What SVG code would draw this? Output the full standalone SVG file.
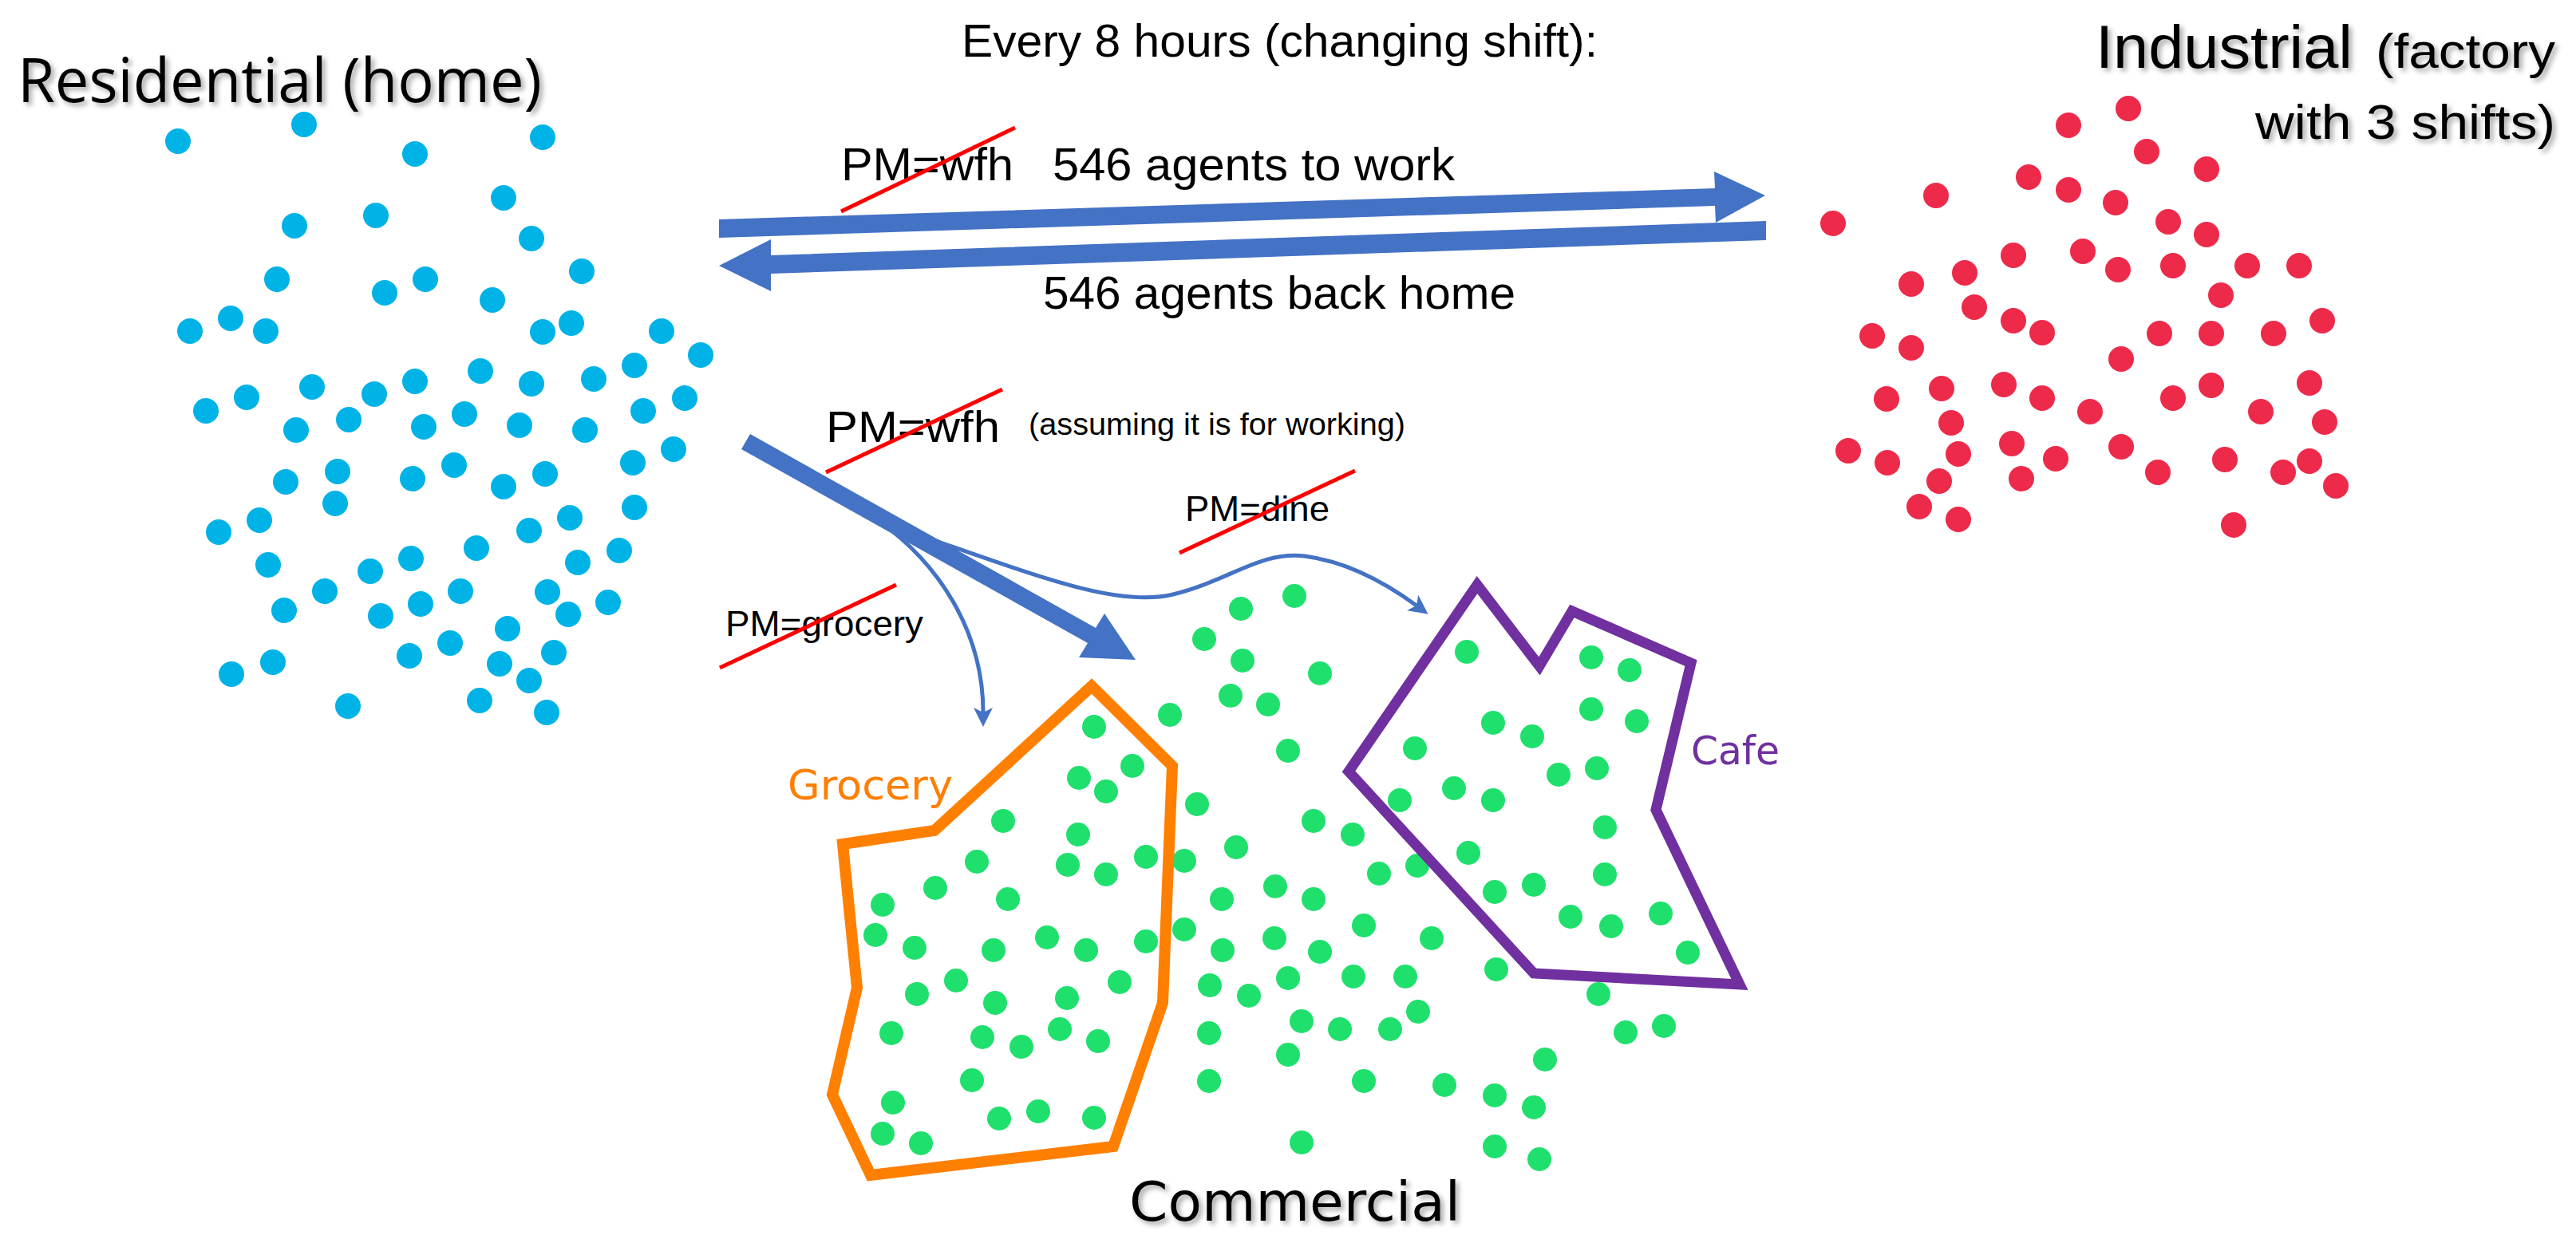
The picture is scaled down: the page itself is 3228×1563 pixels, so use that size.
<svg xmlns="http://www.w3.org/2000/svg" width="3228" height="1563" viewBox="0 0 3228 1563">
<style>
.b{fill:#00B3E6}
.r{fill:#EE2A4A}
.g{fill:#1FE06C}
.lbl{font-family:"Liberation Sans",Arial,sans-serif;fill:#000}
.big{font-family:"Open Sans","Liberation Sans",sans-serif;fill:#000}
.dj{font-family:"DejaVu Sans","Liberation Sans",sans-serif}
.strike{stroke:#FF0000;stroke-width:5;fill:none}
.thin{stroke:#4472C4;stroke-width:5;fill:none}
.fat{fill:#4472C4}
</style>
<defs>
<filter id="sh" x="-10%" y="-30%" width="120%" height="160%">
<feDropShadow dx="4" dy="4" stdDeviation="3" flood-color="#000" flood-opacity="0.35"/>
</filter>
<marker id="ah" markerUnits="userSpaceOnUse" viewBox="0 -13 26 26" markerWidth="26" markerHeight="26" refX="6" refY="0" orient="auto">
<path d="M0,-12 L24,0 L0,12 L6,0 z" fill="#4472C4"/>
</marker>
</defs>
<rect width="3228" height="1563" fill="#fff"/>

<g id="residential">
<text class="big" x="22" y="128" font-size="76" textLength="657" lengthAdjust="spacingAndGlyphs" filter="url(#sh)">Residential (home)</text>
<g class="b">
<circle cx="223" cy="177" r="16"/><circle cx="381" cy="156" r="16"/><circle cx="520" cy="193" r="16"/><circle cx="680" cy="172" r="16"/>
<circle cx="631" cy="248" r="16"/><circle cx="369" cy="283" r="16"/><circle cx="471" cy="270" r="16"/><circle cx="666" cy="299" r="16"/>
<circle cx="347" cy="350" r="16"/><circle cx="533" cy="350" r="16"/><circle cx="482" cy="367" r="16"/><circle cx="729" cy="340" r="16"/>
<circle cx="617" cy="376" r="16"/><circle cx="238" cy="415" r="16"/><circle cx="289" cy="399" r="16"/><circle cx="333" cy="415" r="16"/>
<circle cx="680" cy="416" r="16"/><circle cx="716" cy="405" r="16"/><circle cx="829" cy="415" r="16"/><circle cx="878" cy="445" r="16"/>
<circle cx="795" cy="458" r="16"/><circle cx="602" cy="465" r="16"/><circle cx="744" cy="475" r="16"/><circle cx="666" cy="481" r="16"/>
<circle cx="520" cy="478" r="16"/><circle cx="391" cy="485" r="16"/><circle cx="469" cy="494" r="16"/><circle cx="258" cy="515" r="16"/>
<circle cx="309" cy="498" r="16"/><circle cx="371" cy="539" r="16"/><circle cx="437" cy="526" r="16"/><circle cx="531" cy="535" r="16"/>
<circle cx="582" cy="519" r="16"/><circle cx="651" cy="533" r="16"/><circle cx="733" cy="539" r="16"/><circle cx="806" cy="515" r="16"/>
<circle cx="858" cy="499" r="16"/><circle cx="844" cy="563" r="16"/><circle cx="793" cy="580" r="16"/><circle cx="423" cy="591" r="16"/>
<circle cx="358" cy="604" r="16"/><circle cx="517" cy="600" r="16"/><circle cx="569" cy="583" r="16"/><circle cx="631" cy="610" r="16"/>
<circle cx="683" cy="594" r="16"/><circle cx="420" cy="631" r="16"/><circle cx="795" cy="636" r="16"/><circle cx="274" cy="667" r="16"/>
<circle cx="325" cy="652" r="16"/><circle cx="714" cy="649" r="16"/><circle cx="663" cy="665" r="16"/><circle cx="597" cy="687" r="16"/>
<circle cx="336" cy="708" r="16"/><circle cx="464" cy="716" r="16"/><circle cx="515" cy="700" r="16"/><circle cx="724" cy="705" r="16"/>
<circle cx="776" cy="690" r="16"/><circle cx="407" cy="741" r="16"/><circle cx="577" cy="741" r="16"/><circle cx="356" cy="765" r="16"/>
<circle cx="477" cy="772" r="16"/><circle cx="527" cy="757" r="16"/><circle cx="686" cy="742" r="16"/><circle cx="762" cy="755" r="16"/>
<circle cx="712" cy="770" r="16"/><circle cx="636" cy="788" r="16"/><circle cx="564" cy="806" r="16"/><circle cx="513" cy="822" r="16"/>
<circle cx="694" cy="818" r="16"/><circle cx="626" cy="832" r="16"/><circle cx="290" cy="845" r="16"/><circle cx="342" cy="830" r="16"/>
<circle cx="663" cy="853" r="16"/><circle cx="436" cy="885" r="16"/><circle cx="601" cy="878" r="16"/><circle cx="685" cy="893" r="16"/>
</g>
</g>

<g id="industrial">
<text class="lbl" x="2626" y="85" font-size="76" textLength="322" lengthAdjust="spacingAndGlyphs" filter="url(#sh)">Industrial</text>
<text class="lbl" x="2977" y="85" font-size="62" textLength="225" lengthAdjust="spacingAndGlyphs" filter="url(#sh)">(factory</text>
<text class="lbl" x="2826" y="174" font-size="62" textLength="376" lengthAdjust="spacingAndGlyphs" filter="url(#sh)">with 3 shifts)</text>
<g class="r">
<circle cx="2667" cy="136" r="16"/><circle cx="2592" cy="157" r="16"/><circle cx="2690" cy="190" r="16"/><circle cx="2765" cy="212" r="16"/>
<circle cx="2542" cy="222" r="16"/><circle cx="2592" cy="238" r="16"/><circle cx="2651" cy="254" r="16"/><circle cx="2426" cy="245" r="16"/>
<circle cx="2297" cy="280" r="16"/><circle cx="2717" cy="278" r="16"/><circle cx="2765" cy="294" r="16"/><circle cx="2523" cy="320" r="16"/>
<circle cx="2610" cy="315" r="16"/><circle cx="2654" cy="338" r="16"/><circle cx="2723" cy="333" r="16"/><circle cx="2816" cy="333" r="16"/>
<circle cx="2881" cy="333" r="16"/><circle cx="2462" cy="342" r="16"/><circle cx="2395" cy="356" r="16"/><circle cx="2783" cy="370" r="16"/>
<circle cx="2474" cy="385" r="16"/><circle cx="2523" cy="402" r="16"/><circle cx="2559" cy="417" r="16"/><circle cx="2346" cy="421" r="16"/>
<circle cx="2395" cy="436" r="16"/><circle cx="2706" cy="418" r="16"/><circle cx="2771" cy="418" r="16"/><circle cx="2849" cy="418" r="16"/>
<circle cx="2910" cy="402" r="16"/><circle cx="2658" cy="450" r="16"/><circle cx="2433" cy="487" r="16"/><circle cx="2364" cy="500" r="16"/>
<circle cx="2511" cy="482" r="16"/><circle cx="2559" cy="499" r="16"/><circle cx="2619" cy="516" r="16"/><circle cx="2723" cy="499" r="16"/>
<circle cx="2771" cy="483" r="16"/><circle cx="2833" cy="516" r="16"/><circle cx="2894" cy="480" r="16"/><circle cx="2913" cy="529" r="16"/>
<circle cx="2445" cy="530" r="16"/><circle cx="2316" cy="565" r="16"/><circle cx="2365" cy="580" r="16"/><circle cx="2454" cy="569" r="16"/>
<circle cx="2521" cy="556" r="16"/><circle cx="2576" cy="575" r="16"/><circle cx="2658" cy="560" r="16"/><circle cx="2704" cy="592" r="16"/>
<circle cx="2788" cy="576" r="16"/><circle cx="2861" cy="592" r="16"/><circle cx="2894" cy="578" r="16"/><circle cx="2927" cy="609" r="16"/>
<circle cx="2430" cy="603" r="16"/><circle cx="2533" cy="600" r="16"/><circle cx="2405" cy="635" r="16"/><circle cx="2454" cy="651" r="16"/>
<circle cx="2799" cy="658" r="16"/>
</g>
</g>

<g id="commercial">
<text class="dj" x="1415" y="1530" font-size="68" fill="#000" textLength="415" lengthAdjust="spacingAndGlyphs" filter="url(#sh)">Commercial</text>
<g class="g">
<circle cx="1622" cy="747" r="15"/><circle cx="1555" cy="763" r="15"/><circle cx="1509" cy="801" r="15"/><circle cx="1557" cy="828" r="15"/>
<circle cx="1654" cy="844" r="15"/><circle cx="1542" cy="872" r="15"/><circle cx="1589" cy="883" r="15"/><circle cx="1466" cy="896" r="15"/>
<circle cx="1371" cy="911" r="15"/><circle cx="1614" cy="941" r="15"/><circle cx="1419" cy="960" r="15"/><circle cx="1352" cy="975" r="15"/>
<circle cx="1386" cy="992" r="15"/><circle cx="1500" cy="1008" r="15"/><circle cx="1257" cy="1029" r="15"/><circle cx="1646" cy="1029" r="15"/>
<circle cx="1351" cy="1046" r="15"/><circle cx="1695" cy="1046" r="15"/><circle cx="1549" cy="1062" r="15"/><circle cx="1224" cy="1080" r="15"/>
<circle cx="1338" cy="1084" r="15"/><circle cx="1436" cy="1074" r="15"/><circle cx="1484" cy="1079" r="15"/><circle cx="1386" cy="1096" r="15"/>
<circle cx="1728" cy="1095" r="15"/><circle cx="1172" cy="1113" r="15"/><circle cx="1263" cy="1127" r="15"/><circle cx="1531" cy="1127" r="15"/>
<circle cx="1598" cy="1111" r="15"/><circle cx="1646" cy="1127" r="15"/><circle cx="1106" cy="1134" r="15"/><circle cx="1097" cy="1172" r="15"/>
<circle cx="1146" cy="1188" r="15"/><circle cx="1245" cy="1191" r="15"/><circle cx="1312" cy="1175" r="15"/><circle cx="1361" cy="1191" r="15"/>
<circle cx="1436" cy="1180" r="15"/><circle cx="1484" cy="1165" r="15"/><circle cx="1532" cy="1191" r="15"/><circle cx="1597" cy="1176" r="15"/>
<circle cx="1654" cy="1193" r="15"/><circle cx="1709" cy="1160" r="15"/><circle cx="1198" cy="1229" r="15"/><circle cx="1149" cy="1246" r="15"/>
<circle cx="1247" cy="1257" r="15"/><circle cx="1337" cy="1251" r="15"/><circle cx="1403" cy="1231" r="15"/><circle cx="1516" cy="1235" r="15"/>
<circle cx="1565" cy="1248" r="15"/><circle cx="1614" cy="1226" r="15"/><circle cx="1696" cy="1224" r="15"/><circle cx="1117" cy="1295" r="15"/>
<circle cx="1231" cy="1300" r="15"/><circle cx="1280" cy="1312" r="15"/><circle cx="1328" cy="1290" r="15"/><circle cx="1376" cy="1305" r="15"/>
<circle cx="1515" cy="1295" r="15"/><circle cx="1631" cy="1280" r="15"/><circle cx="1679" cy="1290" r="15"/><circle cx="1218" cy="1354" r="15"/>
<circle cx="1515" cy="1355" r="15"/><circle cx="1614" cy="1322" r="15"/><circle cx="1709" cy="1355" r="15"/><circle cx="1119" cy="1382" r="15"/>
<circle cx="1252" cy="1402" r="15"/><circle cx="1301" cy="1393" r="15"/><circle cx="1371" cy="1401" r="15"/><circle cx="1106" cy="1421" r="15"/>
<circle cx="1154" cy="1433" r="15"/><circle cx="1631" cy="1432" r="15"/>
<circle cx="1838" cy="817" r="15"/><circle cx="1994" cy="824" r="15"/><circle cx="2042" cy="840" r="15"/><circle cx="1994" cy="889" r="15"/>
<circle cx="2051" cy="904" r="15"/><circle cx="1871" cy="906" r="15"/><circle cx="1920" cy="923" r="15"/><circle cx="1773" cy="938" r="15"/>
<circle cx="2001" cy="963" r="15"/><circle cx="1953" cy="971" r="15"/><circle cx="1822" cy="988" r="15"/><circle cx="1871" cy="1003" r="15"/>
<circle cx="1754" cy="1003" r="15"/><circle cx="2011" cy="1037" r="15"/><circle cx="1776" cy="1085" r="15"/><circle cx="1840" cy="1069" r="15"/>
<circle cx="1873" cy="1118" r="15"/><circle cx="1922" cy="1109" r="15"/><circle cx="2011" cy="1096" r="15"/><circle cx="1794" cy="1176" r="15"/>
<circle cx="1968" cy="1149" r="15"/><circle cx="2019" cy="1161" r="15"/><circle cx="2081" cy="1145" r="15"/><circle cx="2115" cy="1194" r="15"/>
<circle cx="1761" cy="1224" r="15"/><circle cx="1875" cy="1215" r="15"/><circle cx="2003" cy="1246" r="15"/><circle cx="1777" cy="1268" r="15"/>
<circle cx="1742" cy="1290" r="15"/><circle cx="2037" cy="1294" r="15"/><circle cx="2085" cy="1286" r="15"/><circle cx="1936" cy="1328" r="15"/>
<circle cx="1810" cy="1360" r="15"/><circle cx="1873" cy="1373" r="15"/><circle cx="1922" cy="1388" r="15"/><circle cx="1873" cy="1437" r="15"/>
<circle cx="1929" cy="1453" r="15"/>
</g>
</g>

<g id="grocery">
<polygon points="1368,860 1469,960 1457,1257 1395,1437 1091,1473 1043,1372 1074,1238 1056,1058 1171,1041" fill="none" stroke="#FF7F00" stroke-width="14" stroke-linejoin="miter"/>
<text class="dj" x="987" y="1002" font-size="52" fill="#FF7F00" textLength="207" lengthAdjust="spacingAndGlyphs">Grocery</text>
</g>

<g id="cafe">
<polygon points="1851,733 1929,835 1970,766 2119,831 2075,1015 2180,1234 1922,1220 1690,967" fill="none" stroke="#7030A0" stroke-width="13" stroke-linejoin="miter"/>
<text class="dj" x="2119" y="958" font-size="50" fill="#7030A0" textLength="111" lengthAdjust="spacingAndGlyphs">Cafe</text>
</g>

<g id="connectors">
<polygon class="fat" points="901,275 2149,236 2148,215 2212,245 2150,279 2149,258 901,298"/>
<polygon class="fat" points="2213,277 966,320 966,300 901,333 966,365 966,343 2213,301"/>
<polygon class="fat" points="940,544 1373,787 1384,769 1423,827 1352,824 1363,806 929,563"/>
<path class="thin" d="M1100,652 C1175,705 1232,790 1232,893" marker-end="url(#ah)"/>
<path class="thin" d="M1150,670 C1300,722 1400,762 1470,745 C1540,728 1580,690 1635,697 C1695,705 1745,737 1775,759" marker-end="url(#ah)"/>
</g>

<g id="labels">
<text class="lbl" x="1205" y="71" font-size="58" textLength="797" lengthAdjust="spacingAndGlyphs">Every 8 hours (changing shift):</text>
<text class="lbl" x="1054" y="226" font-size="58" textLength="216" lengthAdjust="spacingAndGlyphs">PM=wfh</text>
<text class="lbl" x="1319" y="226" font-size="58" textLength="504" lengthAdjust="spacingAndGlyphs">546 agents to work</text>
<text class="lbl" x="1307" y="387" font-size="58" textLength="592" lengthAdjust="spacingAndGlyphs">546 agents back home</text>
<text class="lbl" x="1035" y="554" font-size="56" textLength="218" lengthAdjust="spacingAndGlyphs">PM=wfh</text>
<text class="lbl" x="1289" y="545" font-size="38" textLength="472" lengthAdjust="spacingAndGlyphs">(assuming it is for working)</text>
<text class="lbl" x="1485" y="653" font-size="45" textLength="181" lengthAdjust="spacingAndGlyphs">PM=dine</text>
<text class="lbl" x="909" y="797" font-size="45" textLength="248" lengthAdjust="spacingAndGlyphs">PM=grocery</text>
<line class="strike" x1="1054" y1="265" x2="1272" y2="160"/>
<line class="strike" x1="1035" y1="592" x2="1256" y2="488"/>
<line class="strike" x1="1478" y1="693" x2="1698" y2="590"/>
<line class="strike" x1="902" y1="837" x2="1123" y2="733"/>
</g>
</svg>
